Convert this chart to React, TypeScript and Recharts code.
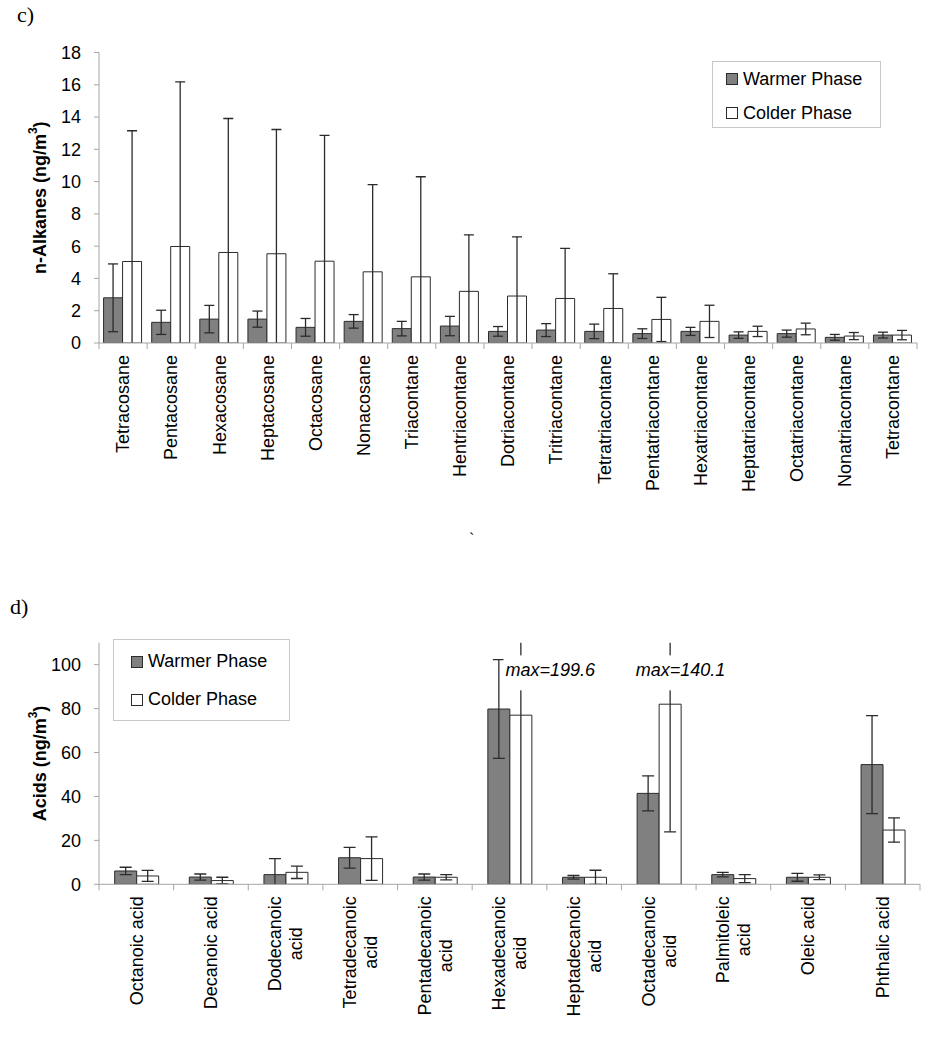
import React from "react";
import { BarChart, Bar, XAxis, YAxis, ErrorBar, Legend, ReferenceDot } from "recharts";

const FONT = "Arial, 'Liberation Sans', sans-serif";
const SERIF = "'Times New Roman', 'Liberation Serif', serif";
const WARM_FILL = "#808080";
const COLD_FILL = "#ffffff";
const EDGE = "#2b2b2b";
const AXIS_GRAY = "#a6a6a6";

// c) n-alkanes
const alkaneNames = [
  "Tetracosane", "Pentacosane", "Hexacosane", "Heptacosane", "Octacosane", "Nonacosane",
  "Triacontane", "Hentriacontane", "Dotriacontane", "Tritriacontane", "Tetratriacontane",
  "Pentatriacontane", "Hexatriacontane", "Heptatriacontane", "Octatriacontane",
  "Nonatriacontane", "Tetracontane",
];
const alkaneWarm = [2.8, 1.28, 1.48, 1.48, 0.97, 1.34, 0.89, 1.05, 0.72, 0.8, 0.72, 0.58, 0.72, 0.49, 0.58, 0.35, 0.49];
const alkaneWarmSd = [2.1, 0.75, 0.85, 0.5, 0.55, 0.42, 0.45, 0.6, 0.3, 0.4, 0.45, 0.3, 0.25, 0.2, 0.22, 0.18, 0.18];
const alkaneCold = [5.05, 5.98, 5.61, 5.53, 5.07, 4.41, 4.1, 3.2, 2.91, 2.76, 2.14, 1.46, 1.34, 0.72, 0.87, 0.43, 0.49];
const alkaneColdSd = [8.1, 10.2, 8.3, 7.7, 7.8, 5.4, 6.2, 3.5, 3.67, 3.1, 2.15, 1.37, 1.0, 0.32, 0.36, 0.22, 0.29];
const alkaneTicks = [0, 2, 4, 6, 8, 10, 12, 14, 16, 18];

// d) acids
const acidNames = [
  "Octanoic acid", "Decanoic acid", "Dodecanoic acid", "Tetradecanoic acid", "Pentadecanoic acid",
  "Hexadecanoic acid", "Heptadecanoic acid", "Octadecanoic acid", "Palmitoleic acid", "Oleic acid",
  "Phthalic acid",
];
const acidLabelLines = [
  ["Octanoic acid"], ["Decanoic acid"], ["Dodecanoic", "acid"], ["Tetradecanoic", "acid"],
  ["Pentadecanoic", "acid"], ["Hexadecanoic", "acid"], ["Heptadecanoic", "acid"],
  ["Octadecanoic", "acid"], ["Palmitoleic", "acid"], ["Oleic acid"], ["Phthalic acid"],
];
const acidWarm = [6.06, 3.3, 4.4, 12.1, 3.3, 79.8, 3.2, 41.4, 4.4, 3.2, 54.5];
const acidWarmSd = [1.7, 1.4, 7.3, 4.7, 1.4, 22.5, 0.8, 8.0, 1.0, 1.8, 22.3];
const acidCold = [3.8, 1.7, 5.45, 11.7, 3.2, 77.0, 3.2, 82.0, 2.6, 3.2, 24.7];
const acidColdSd = [2.5, 1.5, 2.8, 9.9, 1.2, 122.6, 3.2, 58.1, 1.8, 1.1, 5.5];
const acidTicks = [0, 20, 40, 60, 80, 100];
const acidNoted = ["Hexadecanoic acid", "Octadecanoic acid"];

const seriesNames = ["Warmer Phase", "Colder Phase"];

const alkaneData = alkaneNames.map((name, i) => ({
  name, warm: alkaneWarm[i], warmSd: alkaneWarmSd[i], cold: alkaneCold[i], coldSd: alkaneColdSd[i],
}));
const acidData = acidNames.map((name, i) => ({
  name, lines: acidLabelLines[i], warm: acidWarm[i], warmSd: acidWarmSd[i], cold: acidCold[i], coldSd: acidColdSd[i],
}));

let ctx: CanvasRenderingContext2D | null = null;
const textWidth = (s: string) => {
  if (!ctx) ctx = document.createElement("canvas").getContext("2d");
  if (!ctx) return s.length * 9;
  ctx.font = `18px ${FONT}`;
  return ctx.measureText(s).width;
};

const CategoryTick = (props: any) => {
  const { x, y, payload, index, halfBand, count, linesOf } = props;
  const lines: string[] = linesOf ? linesOf(payload.value) : [payload.value];
  const w0 = textWidth(lines[0]);
  const lh = 21;
  return (
    <g>
      <line x1={x - halfBand} x2={x - halfBand} y1={y} y2={y + 6} stroke={AXIS_GRAY} />
      {index === count - 1 && <line x1={x + halfBand} x2={x + halfBand} y1={y} y2={y + 6} stroke={AXIS_GRAY} />}
      <text transform={`translate(${x},${y + 12}) rotate(-90)`} fontFamily={FONT} fontSize={18} fill="#000">
        {lines.map((t, i) => (
          <tspan key={i} x={i === 0 ? 0 : -w0 / 2} y={(i - (lines.length - 1) / 2) * lh} dy="0.35em"
            textAnchor={i === 0 ? "end" : "middle"}>
            {t}
          </tspan>
        ))}
      </text>
    </g>
  );
};

const AxisTitle = (props: any) => {
  const { viewBox, text } = props;
  const cx = 40;
  const cy = viewBox.y + viewBox.height / 2;
  return (
    <text transform={`translate(${cx},${cy}) rotate(-90)`} textAnchor="middle" dominantBaseline="central"
      fontFamily={FONT} fontSize={18} fontWeight="bold" fill="#000">
      <tspan>{text}</tspan>
      <tspan dy={-7} fontSize={12}>3</tspan>
      <tspan dy={7}>)</tspan>
    </text>
  );
};

const LegendBox = (props: any) => {
  const { payload, padLeft, rowTop, rowGap } = props;
  const items = [...(payload || [])].sort(
    (a: any, b: any) => seriesNames.indexOf(a.value) - seriesNames.indexOf(b.value)
  );
  return (
    <div style={{ position: "relative", width: "100%", height: "100%", boxSizing: "border-box",
      border: "1px solid #c8c8c8", background: "#fff", fontFamily: FONT, fontSize: 18, color: "#000" }}>
      {items.map((p: any, i: number) => (
        <div key={p.value} style={{ position: "absolute", left: padLeft, top: rowTop + i * rowGap - 11,
          height: 22, display: "flex", alignItems: "center", whiteSpace: "nowrap" }}>
          <span style={{ display: "inline-block", width: 10, height: 10, background: p.color,
            border: `1px solid ${EDGE}`, marginRight: 5 }} />
          {p.value}
        </div>
      ))}
    </div>
  );
};

const NoteLabel = (props: any) => {
  const { viewBox, text, dx } = props;
  const cx = viewBox.x + viewBox.width / 2;
  const cy = viewBox.y + viewBox.height / 2;
  const w = textWidth(text);
  return (
    <g>
      <rect x={cx + dx - 2} y={cy - 15} width={w + 6} height={35} fill="#fff" />
      <text x={cx + dx} y={cy + 6} fontFamily={FONT} fontSize={18} fontStyle="italic" fill="#000">{text}</text>
    </g>
  );
};

const noteOffset: Record<string, number> = { "Hexadecanoic acid": -4, "Octadecanoic acid": -23 };

const PLOT_LEFT = 99;
const TOP_W = 927;
const TOP_RIGHT = 917;
const TOP_MT = 52.5;
const TOP_PH = 290.5;
const BOT_RIGHT = 920;
const BOT_MT = 52.7;
const BOT_PH = 241.6;

export default function App() {
  const topHalf = (TOP_RIGHT - PLOT_LEFT) / alkaneNames.length / 2;
  const botHalf = (BOT_RIGHT - PLOT_LEFT) / acidNames.length / 2;
  const linesByName = (v: string) => acidData.find((d) => d.name === v)?.lines ?? [v];

  return (
    <div style={{ position: "absolute", left: 0, top: 0, width: 927, height: 1050, background: "#fff" }}>
      <style>{`
        #alkanes .recharts-errorBars, #alkanes .recharts-errorBar { clip-path: url(#clip-alkanes); }
        #acids .recharts-errorBars, #acids .recharts-errorBar { clip-path: url(#clip-acids); }
      `}</style>
      <svg width={0} height={0} style={{ position: "absolute" }}>
        <defs>
          <clipPath id="clip-alkanes" clipPathUnits="userSpaceOnUse">
            <rect x={PLOT_LEFT} y={TOP_MT} width={TOP_RIGHT - PLOT_LEFT} height={TOP_PH} />
          </clipPath>
          <clipPath id="clip-acids" clipPathUnits="userSpaceOnUse">
            <rect x={PLOT_LEFT} y={BOT_MT} width={BOT_RIGHT - PLOT_LEFT} height={BOT_PH} />
          </clipPath>
        </defs>
      </svg>
      <div style={{ position: "absolute", left: 17, top: 2, fontFamily: SERIF, fontSize: 22 }}>c)</div>
      <div style={{ position: "absolute", left: 469, top: 530, fontFamily: SERIF, fontSize: 16 }}>`</div>
      <div style={{ position: "absolute", left: 10, top: 594, fontFamily: SERIF, fontSize: 22 }}>d)</div>

      <div id="alkanes" style={{ position: "absolute", left: 0, top: 0 }}>
        <BarChart width={TOP_W} height={523} data={alkaneData}
          margin={{ top: TOP_MT, right: TOP_W - TOP_RIGHT, bottom: 0, left: 0 }}
          barCategoryGap="9.5%" barGap={0}>
          <XAxis dataKey="name" type="category" height={523 - TOP_MT - TOP_PH} interval={0} tickLine={false}
            tickSize={0} tickMargin={0} axisLine={{ stroke: AXIS_GRAY }}
            tick={<CategoryTick halfBand={topHalf} count={alkaneNames.length} />} />
          <YAxis type="number" width={PLOT_LEFT} domain={[0, 18]} ticks={alkaneTicks} interval={0}
            allowDataOverflow axisLine={{ stroke: AXIS_GRAY }} tickLine={{ stroke: AXIS_GRAY }}
            tickSize={5} tickMargin={13} tick={{ fill: "#000", fontSize: 18, fontFamily: FONT }}
            label={<AxisTitle text="n-Alkanes (ng/m" />} />
          <Legend layout="horizontal" verticalAlign="middle" align="center"
            wrapperStyle={{ left: 712, top: 61, width: 169, height: 67 }}
            content={(p: any) => <LegendBox payload={p.payload} padLeft={13} rowTop={17} rowGap={34} />} />
          <Bar dataKey="warm" name={seriesNames[0]} fill={WARM_FILL} stroke={EDGE} strokeWidth={1}
            isAnimationActive={false}>
            <ErrorBar dataKey="warmSd" width={5} stroke={EDGE} strokeWidth={1.3} direction="y" />
          </Bar>
          <Bar dataKey="cold" name={seriesNames[1]} fill={COLD_FILL} stroke={EDGE} strokeWidth={1}
            isAnimationActive={false}>
            <ErrorBar dataKey="coldSd" width={5} stroke={EDGE} strokeWidth={1.3} direction="y" />
          </Bar>
        </BarChart>
      </div>

      <div id="acids" style={{ position: "absolute", left: 0, top: 590 }}>
        <BarChart width={927} height={460} data={acidData}
          margin={{ top: BOT_MT, right: 927 - BOT_RIGHT, bottom: 0, left: 0 }}
          barCategoryGap="21%" barGap={0}>
          <XAxis dataKey="name" type="category" height={460 - BOT_MT - BOT_PH} interval={0} tickLine={false}
            tickSize={0} tickMargin={0} axisLine={{ stroke: AXIS_GRAY }}
            tick={<CategoryTick halfBand={botHalf} count={acidNames.length} linesOf={linesByName} />} />
          <YAxis type="number" width={PLOT_LEFT} domain={[0, 110]} ticks={acidTicks} interval={0}
            allowDataOverflow axisLine={{ stroke: AXIS_GRAY }} tickLine={{ stroke: AXIS_GRAY }}
            tickSize={5} tickMargin={13} tick={{ fill: "#000", fontSize: 18, fontFamily: FONT }}
            label={<AxisTitle text="Acids (ng/m" />} />
          <Legend layout="horizontal" verticalAlign="middle" align="center"
            wrapperStyle={{ left: 113, top: 48.7, width: 177, height: 82 }}
            content={(p: any) => <LegendBox payload={p.payload} padLeft={17} rowTop={22} rowGap={38} />} />
          <Bar dataKey="warm" name={seriesNames[0]} fill={WARM_FILL} stroke={EDGE} strokeWidth={1}
            isAnimationActive={false}>
            <ErrorBar dataKey="warmSd" width={6} stroke={EDGE} strokeWidth={1.3} direction="y" />
          </Bar>
          <Bar dataKey="cold" name={seriesNames[1]} fill={COLD_FILL} stroke={EDGE} strokeWidth={1}
            isAnimationActive={false}>
            <ErrorBar dataKey="coldSd" width={6} stroke={EDGE} strokeWidth={1.3} direction="y" />
          </Bar>
          {acidNoted.map((cat) => {
            const d = acidData.find((r) => r.name === cat)!;
            const text = `max=${(d.cold + d.coldSd).toFixed(1)}`;
            return (
              <ReferenceDot key={cat} x={cat} y={97.4} r={0} fill="none" stroke="none" ifOverflow="visible"
                zIndex={3000} label={<NoteLabel text={text} dx={noteOffset[cat] ?? 0} />} />
            );
          })}
        </BarChart>
      </div>
    </div>
  );
}
